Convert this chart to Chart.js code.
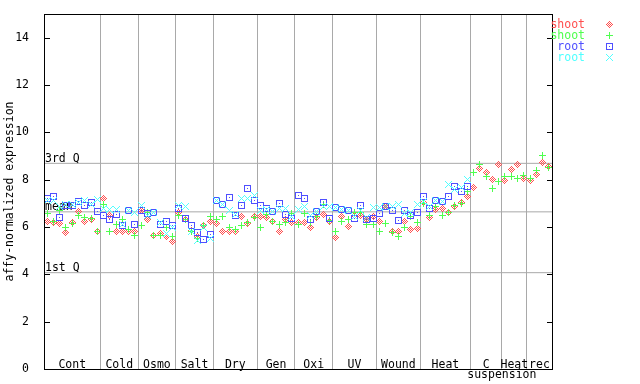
<!DOCTYPE html>
<html><head><meta charset="utf-8">
<script src="https://cdn.jsdelivr.net/npm/chart.js@4/dist/chart.umd.min.js"></script>
<style>html,body{margin:0;padding:0;background:#fff}canvas{display:block}</style>
</head><body>
<canvas id="c" width="640" height="384"></canvas>
<script>
// ---- data ----
const groupNames = ['Cont','Cold','Osmo','Salt','Dry','Gen','Oxi','UV','Wound','Heat','C','Heat','rec'];
const groupSizes = [9,6,6,6,7,6,6,7,7,8,5,4,4];
const subLabel = 'suspension';
const yTicks = [0,2,4,6,8,10,12,14];
const refNames = ['3rd Q','mean','1st Q'];
const refValues = [8.69, 6.64, 4.07];
const seriesNames = ['shoot','shoot','root','root'];

const shootA = [
  6.22,6.19,6.14,5.77,6.19,6.67,6.22,6.33,5.82,
  7.21,6.50,5.79,5.79,5.79,5.79,
  6.71,6.30,5.65,5.72,5.58,5.37,
  6.61,6.30,5.86,5.58,6.08,6.22,
  6.15,5.82,5.82,5.82,6.43,6.15,6.43,
  6.43,6.40,6.22,5.82,6.30,6.20,
  6.20,6.17,5.98,6.40,6.54,6.22,
  5.55,6.43,6.03,6.50,6.50,6.30,6.43,
  6.22,6.88,5.79,5.83,6.22,5.90,5.94,
  7.02,6.40,6.75,6.78,6.60,6.85,7.02,7.30,
  7.67,8.47,8.31,8.01,8.64,
  7.95,8.43,8.64,8.05,
  7.95,8.22,8.73,8.55];
const shootB = [
  6.57,6.22,6.71,5.96,6.14,6.50,6.40,6.35,5.82,
  6.96,5.82,6.10,6.33,5.90,5.65,
  6.05,6.61,5.65,5.65,5.98,5.60,
  6.50,6.33,5.82,5.50,6.08,6.43,
  6.30,6.43,5.98,5.90,6.08,6.20,6.40,
  6.00,6.53,6.22,6.10,6.20,6.57,
  6.12,6.57,6.17,6.45,6.96,6.26,
  5.79,6.22,6.30,6.61,6.61,6.12,6.12,
  5.79,6.14,5.76,5.58,6.00,6.45,6.19,
  7.00,6.50,6.88,6.50,6.60,6.90,7.00,7.49,
  8.31,8.66,8.15,7.63,7.91,
  8.15,8.15,8.05,8.19,
  8.05,8.40,9.04,8.50];
const rootA = [
  7.21,7.27,6.40,6.92,6.92,7.09,6.89,7.02,6.64,
  6.50,6.32,6.53,6.08,6.68,6.10,
  6.71,6.57,6.61,6.10,6.24,6.08,
  6.77,6.35,6.08,5.77,5.47,5.69,
  7.13,6.96,7.25,6.50,6.92,7.63,7.13,
  6.92,6.78,6.64,6.99,6.54,6.38,
  7.34,7.20,6.32,6.64,7.04,6.36,
  6.81,6.74,6.68,6.38,6.89,6.32,6.36,
  6.57,6.85,6.71,6.26,6.71,6.50,6.61,
  7.30,6.78,7.13,7.09,7.30,7.73,7.49,7.73];
const rootB = [
  7.11,7.11,6.85,6.96,6.96,7.05,7.10,6.95,7.18,
  6.80,6.74,6.74,6.10,6.68,6.60,
  6.92,6.50,6.60,6.20,5.72,6.00,
  6.90,6.88,5.79,5.41,6.00,5.51,
  7.13,6.96,6.71,6.54,7.20,7.20,7.34,
  6.71,6.75,6.64,6.78,6.78,6.45,
  6.75,6.88,6.50,6.64,6.88,6.88,
  6.81,6.74,6.68,6.45,6.70,6.40,6.81,
  6.81,6.85,6.85,6.96,6.57,6.60,6.96,
  7.06,6.85,7.10,7.09,7.81,7.60,7.69,8.01];

// ---- styling ----
const FONT = '"DejaVu Sans Mono", "Liberation Mono", monospace';
const FS = 11.5;
const colors = ['#ff4f4f','#4fff4f','#4f4fff','#4fffff'];
const kinds = ['diamond','plus','square','cross'];
const GRAY = '#a9a9a9';

function makeMarker(kind, color) {
  const n = 7, c = document.createElement('canvas');
  c.width = n; c.height = n;
  const g = c.getContext('2d');
  g.fillStyle = color;
  for (let yy = 0; yy < n; yy++) for (let xx = 0; xx < n; xx++) {
    const dx = xx - 3, dy = yy - 3, ad = Math.abs(dx), bd = Math.abs(dy);
    let on = false;
    if (kind === 'diamond') on = (ad + bd === 1 || ad + bd === 3);
    else if (kind === 'plus') on = (dx === 0 || dy === 0);
    else if (kind === 'square') on = (Math.max(ad, bd) === 3) || (dx === 0 && dy === 0);
    else if (kind === 'cross') on = (ad === bd);
    if (on) g.fillRect(xx, yy, 1, 1);
  }
  return c;
}
const markers = kinds.map((k, i) => makeMarker(k, colors[i]));

const total = groupSizes.reduce((a, b) => a + b, 0);
const boundaries = [];
{ let acc = 0; groupSizes.forEach(s => { acc += s; boundaries.push(acc - 0.5); }); }
const toPts = arr => arr.map((v, i) => ({x: i, y: v}));
const seriesData = [shootA, shootB, rootA, rootB];

const datasets = [];
refValues.forEach(v => datasets.push({
  type: 'line', data: [{x: -0.5, y: v}, {x: total - 0.5, y: v}],
  borderColor: GRAY, borderWidth: 1, pointRadius: 0, showLine: true, order: 10
}));
seriesData.forEach((arr, i) => datasets.push({
  label: seriesNames[i], data: toPts(arr), pointStyle: markers[i],
  pointRadius: 3, showLine: false, order: 4 - i
}));

const deco = {
  id: 'deco',
  beforeDatasetsDraw(chart) {
    const {ctx, chartArea: a, scales: {x, y}} = chart;
    ctx.save();
    ctx.font = FS + 'px ' + FONT;
    ctx.fillStyle = '#000';
    ctx.textAlign = 'left'; ctx.textBaseline = 'alphabetic';
    refNames.forEach((n, i) => {
      const py = y.getPixelForValue(refValues[i]);
      ctx.fillText(n, a.left + 1, py - 1.5);
    });
    ctx.textAlign = 'center';
    let start = 0;
    groupNames.forEach((g, i) => {
      const c = start + (groupSizes[i] - 1) / 2;
      ctx.fillText(g, x.getPixelForValue(c), a.bottom - 1.5);
      start += groupSizes[i];
    });
    ctx.fillText(subLabel, x.getPixelForValue(boundaries[10]), a.bottom + 9);
    ctx.restore();
    ctx.imageSmoothingEnabled = false;
  },
  afterDraw(chart) {
    const {ctx, chartArea: a, scales: {y}} = chart;
    ctx.save();
    ctx.strokeStyle = '#000'; ctx.lineWidth = 1;
    ctx.strokeRect(Math.round(a.left) + 0.5, Math.round(a.top) + 0.5,
                   Math.round(a.right - a.left), Math.round(a.bottom - a.top));
    ctx.beginPath();
    yTicks.forEach(v => {
      const py = Math.round(y.getPixelForValue(v)) + 0.5;
      ctx.moveTo(a.left, py); ctx.lineTo(a.left + 6, py);
      ctx.moveTo(a.right - 5, py); ctx.lineTo(a.right + 1, py);
    });
    ctx.stroke();
    // legend
    ctx.font = FS + 'px ' + FONT;
    ctx.textAlign = 'right'; ctx.textBaseline = 'alphabetic';
    ctx.imageSmoothingEnabled = false;
    seriesNames.forEach((n, i) => {
      const ry = 24 + i * 11;
      ctx.fillStyle = colors[i];
      ctx.fillText(n, 585, ry + 3.5);
      ctx.drawImage(markers[i], 606, ry - 3);
    });
    ctx.restore();
  }
};

new Chart(document.getElementById('c'), {
  type: 'scatter',
  data: {datasets},
  options: {
    responsive: false, animation: false, devicePixelRatio: 1, events: [],
    layout: {padding: {top: 14, right: 88, bottom: 0, left: 0}},
    plugins: {legend: {display: false}, tooltip: {enabled: false}},
    scales: {
      x: {
        type: 'linear', position: 'bottom', min: -0.5, max: total - 0.5,
        afterBuildTicks: s => { s.ticks = boundaries.map(v => ({value: v})); },
        afterFit: s => { s.height = 15; },
        ticks: {display: false},
        grid: {color: GRAY, lineWidth: 1, drawTicks: false},
        border: {display: false}
      },
      y: {
        type: 'linear', position: 'left', min: 0, max: 15,
        afterBuildTicks: s => { s.ticks = yTicks.map(v => ({value: v})); },
        afterFit: s => { s.width = 44; },
        ticks: {padding: 7, color: '#000', font: {family: FONT, size: FS}},
        grid: {display: false},
        border: {display: false},
        title: {display: true, text: 'affy-normalized expression', color: '#000',
                font: {family: FONT, size: FS}, padding: {top: 3.5, bottom: 0}}
      }
    }
  },
  plugins: [deco]
});
</script>
</body></html>
